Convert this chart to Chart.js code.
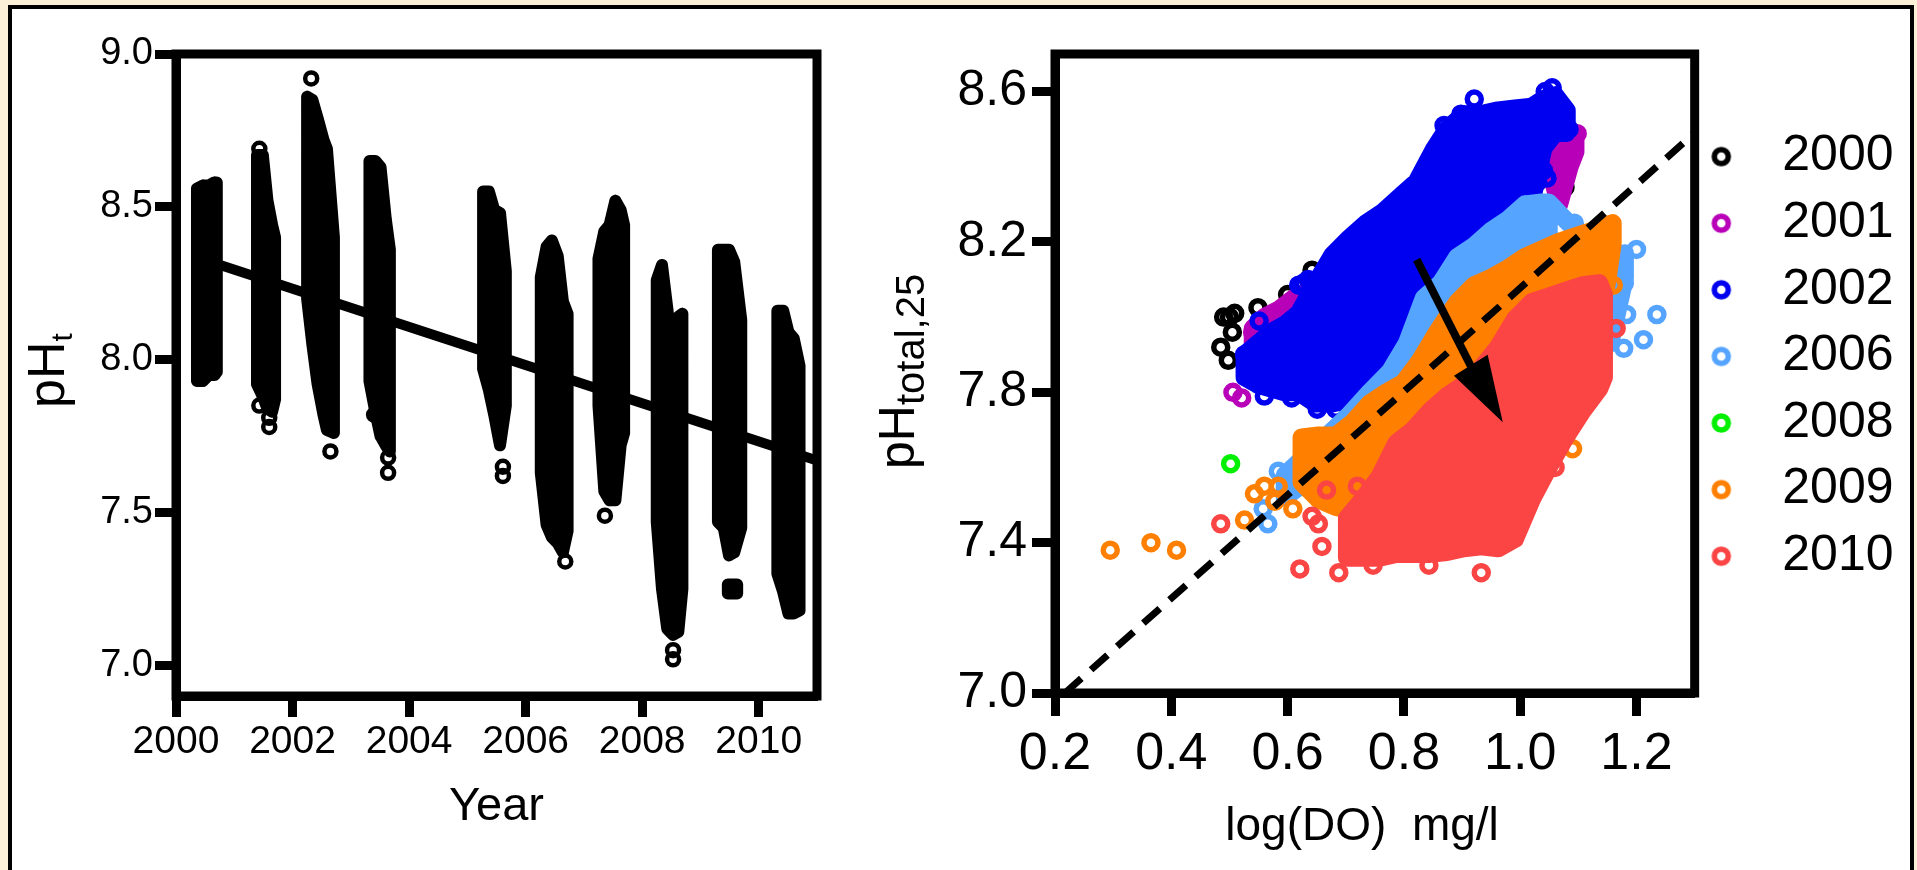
<!DOCTYPE html>
<html lang="en">
<head>
    <meta charset="UTF-8">
    <title>pH trend and pH vs log(DO)</title>
    <script src="https://cdn.jsdelivr.net/npm/chart.js"></script>
    <style>
        html, body { margin: 0; width: 1917px; height: 870px; overflow: hidden; background: #fdf0d9; }
        #frame { position: absolute; left: 8px; top: 5px; width: 1898px; height: 880px; background: #fff; border: 4px solid #000; }
        canvas { position: absolute; top: 0; }
        #leftChart { left: 0; }
        #rightChart { left: 860px; }
    </style>
</head>
<body>
    <div id="frame"></div>
    <canvas id="leftChart" width="860" height="870"></canvas>
    <canvas id="rightChart" width="1070" height="870"></canvas>

    <script>
        // left panel: each season is a list of columns [year, highest pH, lowest pH]
        var season2000 = [[2000.36, 8.56, 7.93], [2000.46, 8.57, 7.93], [2000.56, 8.57, 7.95], [2000.66, 8.58, 7.95], [2000.70, 8.58, 7.96]];
        var season2001 = [[2001.39, 8.67, 7.92], [2001.49, 8.67, 7.88], [2001.57, 8.52, 7.84], [2001.65, 8.44, 7.83], [2001.70, 8.40, 7.87]];
        var season2002 = [[2002.25, 8.86, 8.20], [2002.34, 8.85, 8.05], [2002.43, 8.79, 7.92], [2002.53, 8.72, 7.82], [2002.59, 8.69, 7.77], [2002.71, 8.40, 7.76]];
        var season2003 = [[2003.32, 8.65, 7.93], [2003.42, 8.65, 7.83], [2003.51, 8.63, 7.75], [2003.60, 8.46, 7.72], [2003.67, 8.36, 7.70]];
        var season2005 = [[2005.27, 8.55, 7.97], [2005.37, 8.55, 7.90], [2005.46, 8.49, 7.82], [2005.56, 8.48, 7.72], [2005.66, 8.29, 7.85]];
        var season2006 = [[2006.26, 8.27, 7.63], [2006.36, 8.37, 7.46], [2006.45, 8.39, 7.42], [2006.55, 8.34, 7.40], [2006.64, 8.19, 7.37], [2006.72, 8.15, 7.44]];
        var season2007 = [[2007.25, 8.33, 7.85], [2007.35, 8.42, 7.57], [2007.44, 8.44, 7.54], [2007.54, 8.52, 7.54], [2007.63, 8.49, 7.72], [2007.69, 8.44, 7.76]];
        var season2008 = [[2008.25, 8.26, 7.47], [2008.34, 8.31, 7.25], [2008.43, 8.17, 7.12], [2008.53, 8.00, 7.10], [2008.62, 8.14, 7.11], [2008.69, 8.15, 7.25]];
        var season2009 = [[2009.30, 8.36, 7.47], [2009.40, 8.36, 7.45], [2009.49, 8.36, 7.36], [2009.58, 8.32, 7.37], [2009.70, 8.13, 7.45]];
        var season2009Low = [[2009.47, 7.265, 7.235], [2009.55, 7.265, 7.235], [2009.63, 7.265, 7.235]];
        var season2010 = [[2010.32, 8.16, 7.30], [2010.42, 8.16, 7.24], [2010.51, 8.09, 7.17], [2010.60, 8.07, 7.17], [2010.70, 7.98, 7.18]];
        var seasons = [season2000, season2001, season2002, season2003, season2005, season2006, season2007, season2008, season2009, season2009Low, season2010];
        var phOutliers = [[2001.43, 8.69], [2001.43, 7.85], [2001.60, 7.81], [2001.60, 7.78], [2002.32, 8.92], [2002.65, 7.70],
            [2003.40, 7.82], [2003.64, 7.68], [2003.64, 7.63], [2005.61, 7.65], [2005.61, 7.62], [2006.68, 7.34],
            [2007.36, 7.49], [2008.53, 7.05], [2008.53, 7.02]];
        var trendYears = [2000.6, 2011];
        var trendPh = [8.32, 7.67];
        var leftXTicks = [2000, 2002, 2004, 2006, 2008, 2010];
        var leftYTicks = [7.0, 7.5, 8.0, 8.5, 9.0];

        // right panel: solid part of each year as columns [log DO, highest pH, lowest pH]
        var solid2001 = [[0.54, 7.97, 7.93], [0.56, 8.00, 7.95], [0.585, 8.02, 7.97], [0.61, 8.05, 8.00], [0.635, 8.07, 8.02],
            [1.05, 8.46, 8.40], [1.067, 8.47, 8.30], [1.085, 8.47, 8.40], [1.095, 8.48, 8.44]];
        var solid2002 = [[0.526, 7.90, 7.84], [0.549, 7.93, 7.82], [0.572, 7.96, 7.81], [0.595, 7.98, 7.80], [0.619, 8.01, 7.80],
            [0.648, 8.09, 7.77], [0.677, 8.165, 7.77], [0.706, 8.21, 7.78], [0.735, 8.25, 7.83], [0.764, 8.28, 7.87],
            [0.793, 8.32, 7.93], [0.822, 8.36, 8.00], [0.851, 8.445, 8.08], [0.874, 8.50, 8.14], [0.903, 8.54, 8.18],
            [0.933, 8.54, 8.22], [0.962, 8.55, 8.25], [0.991, 8.555, 8.28], [1.02, 8.56, 8.31], [1.04, 8.58, 8.45], [1.06, 8.59, 8.49], [1.08, 8.55, 8.49]];
        var solid2006 = [[0.595, 7.58, 7.52], [0.63, 7.63, 7.56], [0.665, 7.68, 7.59], [0.706, 7.74, 7.63], [0.741, 7.80, 7.68],
            [0.776, 7.855, 7.72], [0.805, 7.93, 7.78], [0.834, 8.05, 7.84], [0.863, 8.09, 7.90], [0.892, 8.16, 7.96],
            [0.921, 8.19, 8.00], [0.95, 8.23, 8.06], [0.979, 8.26, 8.105], [1.008, 8.30, 8.15], [1.037, 8.305, 8.195],
            [1.049, 8.305, 8.22], [1.155, 8.135, 7.93], [1.18, 8.17, 8.105]];
        var solid2009 = [[0.624, 7.68, 7.56], [0.653, 7.685, 7.515], [0.683, 7.685, 7.495], [0.712, 7.72, 7.485], [0.741, 7.77, 7.495],
            [0.77, 7.80, 7.545], [0.799, 7.825, 7.60], [0.828, 7.885, 7.665], [0.857, 7.96, 7.75], [0.874, 8.00, 7.76], [0.892, 8.04, 7.78],
            [0.921, 8.085, 7.825], [0.95, 8.105, 7.855], [0.979, 8.13, 7.90], [1.008, 8.16, 7.96], [1.037, 8.18, 8.02],
            [1.066, 8.20, 8.06], [1.095, 8.215, 8.085], [1.124, 8.23, 8.105], [1.148, 8.245, 8.08], [1.159, 8.25, 8.195]];
        var solid2010 = [[0.702, 7.465, 7.36], [0.729, 7.515, 7.36], [0.758, 7.575, 7.36], [0.787, 7.665, 7.37], [0.816, 7.70, 7.37],
            [0.845, 7.75, 7.37], [0.874, 7.79, 7.375], [0.903, 7.82, 7.385], [0.933, 7.865, 7.39], [0.962, 7.92, 7.385],
            [0.991, 7.995, 7.41], [1.02, 8.04, 7.515], [1.049, 8.055, 7.60], [1.078, 8.07, 7.68], [1.107, 8.085, 7.75],
            [1.136, 8.09, 7.81], [1.144, 8.06, 7.84]];

        // right panel: single open circles
        var rings2000 = [[0.49, 8.00], [0.50, 8.00], [0.509, 8.01], [0.505, 7.96], [0.549, 8.025], [0.485, 7.92], [0.498, 7.885], [0.60, 8.06], [0.642, 8.125], [1.077, 8.345]];
        var rings2001 = [[0.506, 7.80], [0.521, 7.785], [0.54, 7.96], [1.098, 8.488]];
        var rings2002 = [[0.921, 8.58], [0.898, 8.54], [0.869, 8.51], [1.055, 8.61], [1.043, 8.60], [0.551, 7.99], [0.526, 7.90],
            [0.56, 7.79], [0.607, 7.785], [0.651, 7.755], [0.683, 7.755], [0.619, 8.085], [0.627, 8.09], [0.635, 8.10], [1.084, 8.50],
            [1.024, 8.445], [1.03, 8.36], [1.04, 8.39], [1.046, 8.37]];
        var rings2006 = [[1.2, 8.18], [1.179, 8.09], [1.183, 8.007], [1.235, 8.007], [1.212, 7.94], [1.178, 7.917], [1.093, 8.25], [0.566, 7.45], [0.558, 7.49], [0.584, 7.59]];
        var rings2008 = [[0.502, 7.61]];
        var rings2009 = [[0.295, 7.38], [0.365, 7.40], [0.409, 7.38], [0.526, 7.46], [0.543, 7.53], [0.56, 7.55], [0.584, 7.55], [0.578, 7.51], [0.609, 7.49], [1.09, 7.65], [1.148, 8.16], [1.16, 8.085]];
        var rings2010 = [[0.485, 7.45], [0.621, 7.33], [0.659, 7.39], [0.688, 7.32], [0.747, 7.34], [0.933, 7.32], [0.843, 7.34], [0.642, 7.47], [0.653, 7.45], [0.667, 7.54], [0.72, 7.55], [1.06, 7.60], [1.165, 7.97]];

        var years = ['2000', '2001', '2002', '2006', '2008', '2009', '2010'];
        var yearColors = ['#000000', '#b800b8', '#0000f0', '#55a4ff', '#00f000', '#ff8000', '#fb4444'];
        var yearRings = [rings2000, rings2001, rings2002, rings2006, rings2008, rings2009, rings2010];
        var yearSolids = [[], solid2001, solid2002, solid2006, [], solid2009, solid2010];

        var fitDo = [0.217, 1.3];
        var fitPh = [7.0, 8.49];
        var arrowDo = [0.822, 0.915];
        var arrowPh = [8.153, 7.87];
        var arrowHeadDo = [0.886, 0.944, 0.97];
        var arrowHeadPh = [7.844, 7.90, 7.72];
        var rightXTicks = [0.2, 0.4, 0.6, 0.8, 1.0, 1.2];
        var rightYTicks = [7.0, 7.4, 7.8, 8.2, 8.6];

        function toPoints(list) {
            return list.map(function (p) { return { x: p[0], y: p[1] }; });
        }

        // outline of the columns first, then up one column and down the next to close the inside
        function columnsToPath(columns) {
            var path = [];
            columns.forEach(function (c) { path.push({ x: c[0], y: c[1] }); });
            columns.slice().reverse().forEach(function (c) { path.push({ x: c[0], y: c[2] }); });
            columns.forEach(function (c, i) {
                if (i % 2 === 0) {
                    path.push({ x: c[0], y: c[2] }, { x: c[0], y: c[1] });
                } else {
                    path.push({ x: c[0], y: c[1] }, { x: c[0], y: c[2] });
                }
            });
            return path;
        }

        function pairUp(xs, ys) {
            return xs.map(function (x, i) { return { x: x, y: ys[i] }; });
        }

        var framePlugin = {
            id: 'frame',
            afterDatasetsDraw: function (chart) {
                var a = chart.chartArea, ctx = chart.ctx;
                ctx.save();
                ctx.strokeStyle = '#000';
                ctx.lineWidth = 9;
                ctx.strokeRect(a.left, a.top, a.right - a.left, a.bottom - a.top);
                ctx.restore();
            }
        };

        // y axis title with a subscript, Chart.js titles cannot do that
        var subTitlePlugin = {
            id: 'subTitle',
            afterDraw: function (chart, args, opts) {
                var ctx = chart.ctx;
                ctx.save();
                ctx.translate(opts.x, opts.y);
                ctx.rotate(-Math.PI / 2);
                ctx.fillStyle = '#000';
                ctx.textBaseline = 'alphabetic';
                ctx.textAlign = 'left';
                ctx.font = opts.size + 'px "Liberation Sans"';
                ctx.fillText(opts.main, 0, 0);
                var w = ctx.measureText(opts.main).width;
                ctx.font = opts.subSize + 'px "Liberation Sans"';
                ctx.fillText(opts.sub, w, opts.drop);
                ctx.restore();
            }
        };

        function axisOptions(min, max, ticks, width, height, fontSize, digits, padding, tickLength, title) {
            return {
                type: 'linear',
                min: min,
                max: max,
                afterBuildTicks: function (axis) { axis.ticks = ticks.map(function (v) { return { value: v }; }); },
                afterFit: function (axis) {
                    if (width) axis.width = width;
                    if (height) axis.height = height;
                },
                border: { display: true, color: '#000', width: 9 },
                grid: { drawOnChartArea: false, drawTicks: true, tickLength: tickLength, tickWidth: 9, tickColor: '#000' },
                ticks: {
                    color: '#000',
                    padding: padding,
                    maxRotation: 0,
                    autoSkip: false,
                    font: { family: 'Liberation Sans', size: fontSize },
                    callback: function (v) { return v.toFixed(digits); }
                },
                title: title || { display: false }
            };
        }

        var leftDatasets = seasons.map(function (s) {
            return { data: columnsToPath(s), showLine: true, pointRadius: 0, borderColor: '#000', borderWidth: 12, borderCapStyle: 'round', borderJoinStyle: 'round' };
        });
        leftDatasets.push({ data: toPoints(phOutliers), showLine: false, pointRadius: 6, pointBorderWidth: 4.5, pointBorderColor: '#000', pointBackgroundColor: 'transparent' });
        leftDatasets.push({ data: pairUp(trendYears, trendPh), showLine: true, pointRadius: 0, borderColor: '#000', borderWidth: 10 });

        new Chart(document.getElementById('leftChart'), {
            type: 'scatter',
            data: { datasets: leftDatasets },
            plugins: [framePlugin, subTitlePlugin],
            options: {
                responsive: false,
                animation: false,
                events: [],
                layout: { padding: { top: 54, right: 43 } },
                plugins: {
                    legend: { display: false },
                    tooltip: { enabled: false },
                    subTitle: { x: 64, y: 408, main: 'pH', sub: 't', size: 52, subSize: 30, drop: 8 }
                },
                scales: {
                    x: axisOptions(2000, 2011, leftXTicks, 0, 174, 39, 0, 2, 21,
                        { display: true, text: 'Year', color: '#000', font: { family: 'Liberation Sans', size: 47 }, padding: { top: 0, bottom: 35 } }),
                    y: axisOptions(6.9, 9.0, leftYTicks, 176, 0, 38, 1, 2, 21)
                }
            }
        });

        // rings first so the legend keeps the year order, order: painted later = lower number
        var rightDatasets = years.map(function (year, i) {
            return {
                label: year,
                data: toPoints(yearRings[i]),
                showLine: false,
                pointRadius: 7,
                pointBorderWidth: 5.5,
                pointBorderColor: yearColors[i],
                pointBackgroundColor: 'transparent',
                borderColor: yearColors[i],
                backgroundColor: 'transparent',
                order: 100 - 2 * i - 1
            };
        });
        years.forEach(function (year, i) {
            rightDatasets.push({
                data: columnsToPath(yearSolids[i]),
                showLine: true,
                pointRadius: 0,
                borderColor: yearColors[i],
                borderWidth: 18,
                borderCapStyle: 'round',
                borderJoinStyle: 'round',
                order: 100 - 2 * i
            });
        });
        rightDatasets.push({ data: pairUp(fitDo, fitPh), showLine: true, pointRadius: 0, borderColor: '#000', borderWidth: 7, borderDash: [22, 13], order: 2 });
        rightDatasets.push({ data: pairUp(arrowDo, arrowPh), showLine: true, pointRadius: 0, borderColor: '#000', borderWidth: 8, order: 1 });

        var arrowHeadPlugin = {
            id: 'arrowHead',
            afterDatasetsDraw: function (chart) {
                var ctx = chart.ctx, x = chart.scales.x, y = chart.scales.y;
                ctx.save();
                ctx.fillStyle = '#000';
                ctx.beginPath();
                arrowHeadDo.forEach(function (v, i) {
                    ctx.lineTo(x.getPixelForValue(v), y.getPixelForValue(arrowHeadPh[i]));
                });
                ctx.closePath();
                ctx.fill();
                ctx.restore();
            }
        };

        // the legend sits closer to the plot than its own box would allow
        var legendPlacePlugin = {
            id: 'legendPlace',
            afterLayout: function (chart) {
                chart.legend.left = chart.chartArea.right - 26;
                chart.legend.top = 115;
            }
        };

        // legend marker as a small picture, a plain point style would stretch with pointStyleWidth
        function ringIcon(color) {
            var c = document.createElement('canvas');
            c.width = 24;
            c.height = 24;
            var g = c.getContext('2d');
            g.strokeStyle = color;
            g.lineWidth = 5.5;
            g.beginPath();
            g.arc(12, 12, 7, 0, Math.PI * 2);
            g.stroke();
            return c;
        }

        new Chart(document.getElementById('rightChart'), {
            type: 'scatter',
            data: { datasets: rightDatasets },
            plugins: [arrowHeadPlugin, framePlugin, subTitlePlugin, legendPlacePlugin],
            options: {
                responsive: false,
                animation: false,
                events: [],
                layout: { padding: { top: 54, right: 0.5 } },
                plugins: {
                    legend: {
                        position: 'right',
                        align: 'start',
                        labels: {
                            usePointStyle: true,
                            pointStyleWidth: 72,
                            boxHeight: 10,
                            padding: 16.6,
                            color: '#000',
                            font: { family: 'Liberation Sans', size: 50 },
                            generateLabels: function (chart) {
                                var items = Chart.defaults.plugins.legend.labels.generateLabels(chart);
                                items.forEach(function (item) { item.pointStyle = ringIcon(item.strokeStyle); });
                                return items;
                            },
                            filter: function (item) { return !!item.text; },
                            sort: function (a, b) { return a.datasetIndex - b.datasetIndex; }
                        }
                    },
                    tooltip: { enabled: false },
                    subTitle: { x: 54, y: 469, main: 'pH', sub: 'total,25', size: 50, subSize: 40, drop: 10 }
                },
                scales: {
                    x: axisOptions(0.2, 1.3, rightXTicks, 0, 177, 52, 1, 7, 23,
                        { display: true, text: 'log(DO)  mg/l\u00a0\u00a0', color: '#000', font: { family: 'Liberation Sans', size: 46 }, padding: { top: 0, bottom: 15 } }),
                    y: axisOptions(7.0, 8.7, rightYTicks, 195, 0, 50, 1, 5, 23)
                }
            }
        });
    </script>
</body>
</html>
